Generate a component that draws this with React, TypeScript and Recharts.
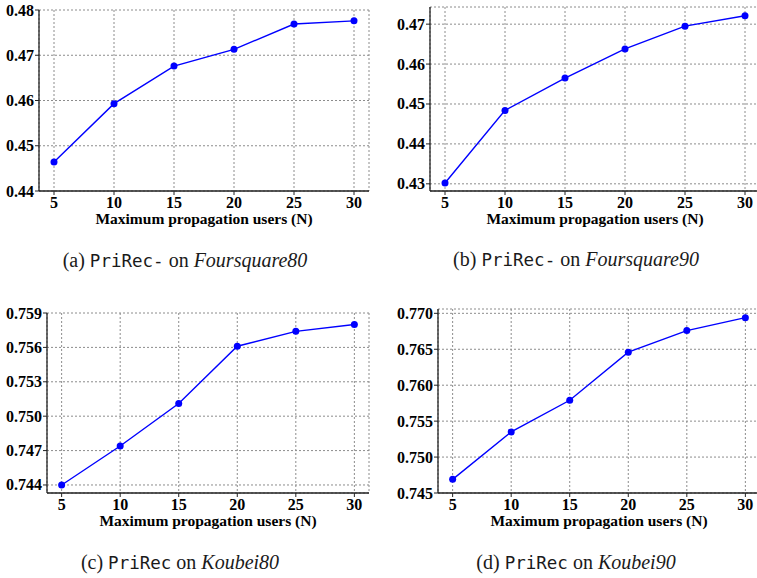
import React from "react";
import {
  LineChart,
  Line,
  XAxis,
  YAxis,
  CartesianGrid,
} from "recharts";

const users = [5, 10, 15, 20, 25, 30];

const foursquare80 = [0.4464, 0.4593, 0.4676, 0.4713, 0.4769, 0.4776];
const foursquare90 = [0.4302, 0.4484, 0.4565, 0.4638, 0.4695, 0.4721];
const koubei80 = [0.744, 0.7474, 0.7511, 0.7561, 0.7574, 0.758];
const koubei90 = [0.7469, 0.7535, 0.7579, 0.7646, 0.7676, 0.7694];

const foursquare80Ticks = [0.44, 0.45, 0.46, 0.47, 0.48];
const foursquare90Ticks = [0.43, 0.44, 0.45, 0.46, 0.47];
const koubei80Ticks = [0.744, 0.747, 0.75, 0.753, 0.756, 0.759];
const koubei90Ticks = [0.745, 0.75, 0.755, 0.76, 0.765, 0.77];

const xLabel = "Maximum propagation users (N)";

const SERIF = "'Liberation Serif', 'Times New Roman', serif";
const MONO = "'DejaVu Sans Mono', monospace";
const SPINE = "#222";

// bold serif tick text, drawn by hand so the weight sticks
function XTick({ x, y, payload }: any) {
  return (
    <text x={x} y={y} dy={11.5} textAnchor="middle" fontSize={16} fontWeight={700} fontFamily={SERIF} fill="#000">
      {payload.value}
    </text>
  );
}

function makeYTick(digits: number) {
  return function YTick({ x, y, payload }: any) {
    return (
      <text x={x} y={y} dy={5.5} textAnchor="end" fontSize={16} fontWeight={700} fontFamily={SERIF} fill="#000">
        {Number(payload.value).toFixed(digits)}
      </text>
    );
  };
}

interface PanelProps {
  values: number[];
  ticks: number[];
  domain: [number, number];
  digits: number;
  left: number;
  top: number;
  width: number;
  marginTop: number;
  marginRight: number;
  plotBottom: number;
  yWidth: number;
}

function Panel({ values, ticks, domain, digits, left, top, width, marginTop, marginRight, plotBottom, yWidth }: PanelProps) {
  const data = users.map((n, i) => ({ n, v: values[i] }));
  const xHeight = 40;
  const height = plotBottom - top + xHeight;
  const YTick = makeYTick(digits);

  return (
    <div style={{ position: "absolute", left, top }}>
      <LineChart
        width={width}
        height={height}
        data={data}
        margin={{ top: marginTop, right: marginRight, left: 0, bottom: 0 }}
      >
        <CartesianGrid stroke="#8c8c8c" strokeDasharray="2 2" strokeWidth={1} />
        <XAxis
          dataKey="n"
          type="number"
          domain={[3.75, 31.25]}
          ticks={users}
          allowDataOverflow
          height={xHeight}
          tick={<XTick />}
          tickSize={4}
          tickMargin={1}
          tickLine={{ stroke: SPINE }}
          axisLine={{ stroke: SPINE, strokeWidth: 1.3 }}
          label={{
            value: xLabel,
            position: "insideBottom",
            offset: 7,
            style: { fontSize: 15.5, fontWeight: 700, fill: "#000", fontFamily: SERIF },
          }}
        />
        <XAxis
          xAxisId="top"
          orientation="top"
          type="number"
          domain={[3.75, 31.25]}
          height={0}
          tick={false}
          tickLine={false}
          axisLine={{ stroke: SPINE, strokeWidth: 1.3 }}
        />
        <YAxis
          type="number"
          domain={domain}
          ticks={ticks}
          allowDataOverflow
          width={yWidth}
          tick={<YTick />}
          tickSize={4}
          tickMargin={1}
          tickLine={{ stroke: SPINE }}
          axisLine={{ stroke: SPINE, strokeWidth: 1.3 }}
        />
        <YAxis
          yAxisId="right"
          orientation="right"
          type="number"
          domain={domain}
          width={0}
          tick={false}
          tickLine={false}
          axisLine={{ stroke: SPINE, strokeWidth: 1.3 }}
        />
        <Line
          type="linear"
          dataKey="v"
          stroke="#0000ff"
          strokeWidth={1.4}
          dot={{ r: 3.5, fill: "#0000ff", stroke: "#0000ff", strokeWidth: 0 }}
          isAnimationActive={false}
        />
      </LineChart>
    </div>
  );
}

function Caption({ center, top, tag, method, dataset }: { center: number; top: number; tag: string; method: string; dataset: string }) {
  return (
    <div
      style={{
        position: "absolute",
        left: center - 160,
        top,
        width: 320,
        textAlign: "center",
        fontFamily: SERIF,
        fontSize: 20,
        lineHeight: "20px",
        color: "#1a1a1a",
        whiteSpace: "nowrap",
      }}
    >
      {`(${tag}) `}
      <span style={{ fontFamily: MONO, fontSize: 17.5 }}>{method}</span>
      {" on "}
      <span style={{ fontStyle: "italic" }}>{dataset}</span>
    </div>
  );
}

export default function App() {
  return (
    <div
      style={{
        position: "absolute",
        left: 0,
        top: 0,
        width: 757,
        height: 578,
        overflow: "hidden",
        background: "#fff",
      }}
    >
      <Panel values={foursquare80} ticks={foursquare80Ticks} domain={[0.44, 0.48]} digits={2}
        left={0} top={0} width={378} marginTop={10} marginRight={9} plotBottom={191} yWidth={39} />
      <Panel values={foursquare90} ticks={foursquare90Ticks} domain={[0.4282, 0.4743]} digits={2}
        left={378} top={0} width={382} marginTop={7} marginRight={0} plotBottom={191} yWidth={52} />
      <Panel values={koubei80} ticks={koubei80Ticks} domain={[0.7433, 0.759]} digits={3}
        left={0} top={290} width={378} marginTop={23} marginRight={9} plotBottom={493} yWidth={47} />
      <Panel values={koubei90} ticks={koubei90Ticks} domain={[0.745, 0.7706]} digits={3}
        left={378} top={290} width={382} marginTop={19} marginRight={0} plotBottom={493} yWidth={60} />

      <Caption center={185} top={250} tag="a" method="PriRec-" dataset="Foursquare80" />
      <Caption center={576} top={249} tag="b" method="PriRec-" dataset="Foursquare90" />
      <Caption center={180} top={552} tag="c" method="PriRec" dataset="Koubei80" />
      <Caption center={576} top={552} tag="d" method="PriRec" dataset="Koubei90" />
    </div>
  );
}
